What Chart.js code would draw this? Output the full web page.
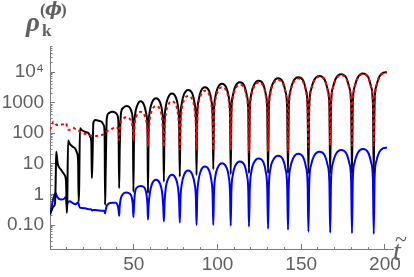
<!DOCTYPE html>
<html><head><meta charset="utf-8">
<script src="https://cdn.jsdelivr.net/npm/chart.js@4"></script>
<style>html,body{margin:0;padding:0;background:#fff}canvas{display:block}</style>
</head><body>
<canvas id="c" width="414" height="277"></canvas>
<script>
// time grid (t~) shared by the three curves
const tValues = [
  0, 1.0, 2.0, 3.0, 3.4, 3.7, 4.6, 6.5, 8.5, 9.6,
  10.0, 10.3, 10.8, 11.8, 13.6, 15.3, 16.2, 16.8,
  17.1, 17.4, 17.9, 19.1, 21.1, 23.0, 24.1, 24.7,
  25.0, 25.3, 25.9, 27.0, 29.0, 30.9, 31.9, 32.6,
  32.9, 33.2, 33.9, 35.0, 37.1, 39.2, 40.3, 40.9,
  41.3, 41.6, 42.3, 43.4, 45.6, 47.7, 48.8, 49.5,
  49.8, 50.2, 50.8, 52.0, 54.2, 56.3, 57.5, 58.2,
  58.5, 58.9, 59.6, 60.9, 63.3, 65.6, 66.9, 67.6,
  68.0, 68.4, 69.1, 70.4, 72.8, 75.1, 76.4, 77.1,
  77.5, 77.9, 78.7, 80.0, 82.5, 85.0, 86.3, 87.1,
  87.5, 87.9, 88.7, 90.0, 92.5, 95.0, 96.3, 97.1,
  97.5, 97.9, 98.7, 100.1, 102.7, 105.3, 106.7, 107.5,
  107.9, 108.3, 109.2, 110.6, 113.4, 116.1, 117.5, 118.4,
  118.8, 119.3, 120.2, 121.7, 124.5, 127.4, 128.8, 129.7,
  130.2, 130.7, 131.6, 133.2, 136.2, 139.1, 140.6, 141.6,
  142.1, 142.6, 143.6, 145.2, 148.2, 151.3, 152.8, 153.8,
  154.3, 154.8, 155.9, 157.6, 160.8, 164.1, 165.7, 166.8,
  167.3, 167.8, 168.9, 170.6, 173.8, 177.1, 178.7, 179.8,
  180.3, 180.8, 181.9, 183.6, 186.8, 190.1, 191.7, 192.8,
  193.3, 193.8, 194.9, 196.6, 199.0, 201.2
];
// black solid curve
const blackValues = [
  0.22, 0.3, 0.4, 0.5, 3, 25, 10, 6.5, 4.5, 2.6,
  0.25, 0.5, 58, 45, 36, 30, 22, 12,
  0.58, 1.5, 145, 125, 110, 100, 75, 45,
  3.4, 10, 220, 270, 255, 235, 190, 110,
  0.45, 4, 300, 450, 500, 460, 380, 180,
  1.6, 25, 400, 650, 780, 680, 480, 170,
  1.2, 110, 400, 780, 1100, 800, 420, 120,
  1.1, 140, 520, 1000, 1400, 1050, 540, 150,
  2.6, 200, 720, 1400, 2000, 1500, 760, 210,
  3.8, 260, 950, 1850, 2600, 1950, 980, 280,
  4.3, 330, 1180, 2300, 3200, 2400, 1200, 340,
  6.6, 420, 1500, 2950, 4100, 3050, 1550, 430,
  4.6, 470, 1700, 3300, 4600, 3450, 1750, 480,
  4.9, 530, 1900, 3700, 5200, 3900, 1950, 560,
  4.9, 630, 2300, 4400, 6200, 4600, 2300, 650,
  4.9, 690, 2500, 4850, 6800, 5100, 2550, 720,
  4.9, 750, 2700, 5250, 7400, 5500, 2750, 780,
  4.9, 850, 3100, 6000, 8400, 6200, 3100, 880,
  4.9, 910, 3300, 6400, 9000, 6650, 3350, 940,
  4.9, 1000, 3600, 7000, 9500, 9900
];
// red dashed curve
const redValues = [
  130, 170, 240, 220, 200, 190, 185, 190, 200, 215,
  180, 150, 130, 130, 150, 135, 125, 120,
  120, 115, 110, 105, 95, 88, 85, 83,
  82, 81, 81, 81, 83, 87, 92, 97,
  100, 105, 115, 125, 140, 160, 150, 110,
  60, 120, 230, 290, 330, 290, 220, 120,
  55, 120, 250, 400, 500, 400, 250, 100,
  36, 90, 290, 560, 780, 600, 300, 95,
  36, 120, 400, 800, 1100, 850, 420, 120,
  30, 170, 600, 1200, 1650, 1250, 620, 170,
  28, 250, 900, 1750, 2450, 1850, 920, 250,
  28, 330, 1170, 2300, 3200, 2400, 1200, 330,
  28, 390, 1400, 2700, 3800, 2850, 1420, 400,
  25, 460, 1650, 3200, 4500, 3400, 1700, 480,
  25, 560, 2000, 3900, 5500, 4100, 2050, 580,
  25, 620, 2250, 4350, 6100, 4550, 2280, 640,
  35, 710, 2550, 5000, 7000, 5200, 2600, 740,
  40, 790, 2850, 5550, 7800, 5750, 2850, 820,
  40, 860, 3100, 6050, 8500, 6300, 3150, 890,
  40, 950, 3400, 6700, 9200, 9700
];
// blue solid curve
const blueValues = [
  0.22, 0.4, 0.75, 1.05, 1.1, 1.0, 0.78, 0.68, 0.72, 0.85,
  0.45, 0.5, 0.55, 0.6, 0.52, 0.48, 0.52, 0.55,
  0.5, 0.42, 0.37, 0.36, 0.35, 0.33, 0.33, 0.32,
  0.3, 0.3, 0.31, 0.31, 0.3, 0.29, 0.29, 0.28,
  0.24, 0.3, 0.42, 0.5, 0.53, 0.53, 0.45, 0.32,
  0.2, 0.4, 0.75, 1.0, 1.15, 1.05, 0.8, 0.42,
  0.18, 0.5, 1.2, 1.7, 1.9, 1.7, 1.1, 0.45,
  0.15, 0.45, 1.1, 2.2, 3.0, 2.3, 1.2, 0.42,
  0.13, 0.55, 1.6, 3.1, 4.4, 3.3, 1.7, 0.58,
  0.12, 0.75, 2.2, 4.3, 6.0, 4.4, 2.3, 0.8,
  0.1, 0.9, 2.9, 5.8, 8.1, 6.0, 3.0, 0.95,
  0.1, 1.1, 3.8, 7.4, 10.4, 7.7, 3.9, 1.1,
  0.095, 1.25, 4.4, 8.6, 12.0, 9.0, 4.5, 1.3,
  0.089, 1.5, 5.5, 10.7, 15, 11.3, 5.6, 1.6,
  0.075, 1.9, 6.8, 13.2, 18.5, 13.8, 6.9, 1.95,
  0.07, 2.2, 7.9, 15.3, 21.5, 16, 8, 2.3,
  0.06, 2.5, 9.2, 17.8, 25, 18.6, 9.3, 2.6,
  0.056, 2.9, 10.5, 20.3, 28.5, 21, 10.6, 3.0,
  0.054, 3.1, 11.2, 21.7, 30.5, 22.5, 11.3, 3.2,
  0.051, 3.4, 12.5, 24, 32.5, 34
];
// tick labels
const xLabelValues = [50, 100, 150, 200];
const xTickLabels = ['50', '100', '150', '200'];
const yLabelValues = [0.1, 1, 10, 100, 1000, 10000];
const yTickLabels = ['0.10', '1', '10', '100', '1000', '10\u2074'];

const X_MIN = 0, X_MAX = 204.8, Y_MIN = 0.01644, Y_MAX = 70800;
const AXIS = '#7c7c7c', TEXT = '#606060';

const xTickPos = [];
for (let v = 10; v <= 200; v += 10) xTickPos.push(v);
const yTickPos = [];
for (let e = -2; e <= 4; e++) for (let m = 1; m <= 9; m++) {
  const v = m * Math.pow(10, e);
  if (v >= Y_MIN && v <= Y_MAX) yTickPos.push(v);
}
const near = (a, b) => Math.abs(a - b) <= 1e-6 * Math.max(Math.abs(a), Math.abs(b));
const yIdx = v => yLabelValues.findIndex(w => near(w, v));
const xIdx = v => xLabelValues.findIndex(w => near(w, v));
const pts = vals => tValues.map((t, i) => ({x: t, y: vals[i]}));

const titles = {
  id: 'titles',
  afterDraw(chart) {
    const c = chart.ctx;
    c.save();
    c.fillStyle = TEXT;
    c.textAlign = 'left';
    c.textBaseline = 'alphabetic';
    c.font = 'italic bold 27px "Liberation Serif"';
    c.fillText('\u03c1', 26, 31);
    c.font = 'bold 17px "Liberation Serif"';
    c.fillText('k', 42, 36);
    c.font = 'bold 17px "Liberation Serif"';
    c.fillText('(', 40, 15);
    c.font = 'italic bold 18px "DejaVu Serif"';
    c.fillText('\u03d5', 45, 15);
    c.font = 'bold 17px "Liberation Serif"';
    c.fillText(')', 61, 15);
    c.font = 'italic 28px "Liberation Serif"';
    c.fillText('t', 393, 260);
    c.font = '22px "Liberation Serif"';
    c.fillText('~', 395, 246);
    c.restore();
  }
};

new Chart(document.getElementById('c'), {
  type: 'line',
  data: {
    datasets: [
      {data: pts(redValues), borderColor: '#ff0000', borderWidth: 2, borderDash: [3, 3],
       pointRadius: 0, cubicInterpolationMode: 'monotone', fill: false},
      {data: pts(blackValues), borderColor: '#000000', borderWidth: 2,
       pointRadius: 0, cubicInterpolationMode: 'monotone', fill: false},
      {data: pts(blueValues), borderColor: '#0000ff', borderWidth: 2,
       pointRadius: 0, cubicInterpolationMode: 'monotone', fill: false}
    ]
  },
  options: {
    responsive: false, animation: false, devicePixelRatio: 1,
    layout: {padding: {top: 46, right: 21, left: 0, bottom: 0}},
    plugins: {legend: {display: false}, tooltip: {enabled: false}},
    scales: {
      x: {
        type: 'linear', min: X_MIN, max: X_MAX, bounds: 'data',
        afterBuildTicks: s => { s.ticks = xTickPos.map(v => ({value: v})); },
        afterFit: s => { s.height = 28; },
        grid: {drawOnChartArea: false, color: AXIS, tickLength: -5,
          tickBorderDash: ctx => (ctx.tick && xIdx(ctx.tick.value) >= 0) ? [] : [3, 100]},
        border: {display: true, color: AXIS, width: 1},
        ticks: {autoSkip: false, maxRotation: 0, minRotation: 0, padding: 9, color: TEXT,
          font: {family: 'Liberation Sans', size: 19},
          callback: v => { const i = xIdx(v); return i >= 0 ? xTickLabels[i] : ''; }}
      },
      y: {
        type: 'logarithmic', min: Y_MIN, max: Y_MAX, bounds: 'data',
        afterBuildTicks: s => { s.ticks = yTickPos.map(v => ({value: v})); },
        afterFit: s => { s.width = 50; },
        grid: {drawOnChartArea: false, color: AXIS, tickLength: -5,
          tickBorderDash: ctx => (ctx.tick && yIdx(ctx.tick.value) >= 0) ? [] : [0, 2.5, 3, 100]},
        border: {display: true, color: AXIS, width: 1},
        ticks: {autoSkip: false, padding: 11, color: TEXT,
          font: {family: 'Liberation Sans', size: 19},
          callback: v => { const i = yIdx(v); return i >= 0 ? yTickLabels[i] : ''; }}
      }
    }
  },
  plugins: [titles]
});
</script>
</body></html>
